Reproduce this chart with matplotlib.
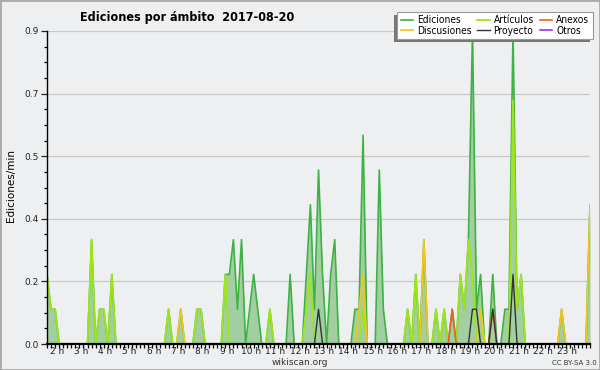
import numpy as np
import matplotlib
matplotlib.use("Agg")
import matplotlib.pyplot as plt
from matplotlib.patches import Rectangle
from matplotlib.ticker import FixedLocator, MultipleLocator
from matplotlib.transforms import IdentityTransform
from matplotlib.font_manager import FontProperties

title = "Ediciones por ámbito  2017-08-20"
ylabel = "Ediciones/min"
start_hour = 1.6
bin_minutes = 10
hour_ticks = list(range(2, 24))
hour_labels = [f"{h} h" for h in hour_ticks]

# Ediciones (total) per 10-minute bin
ediciones = [
    0.2, 0.1, 0.1, 0, 0, 0, 0, 0, 0, 0, 0, 0.3,
    0, 0.1, 0.1, 0, 0.2, 0, 0, 0, 0, 0, 0, 0,
    0, 0, 0, 0, 0, 0, 0.1, 0, 0, 0.1, 0, 0,
    0, 0.1, 0.1, 0, 0, 0, 0, 0, 0.2, 0.2, 0.3, 0.1,
    0.3, 0, 0.1, 0.2, 0.1, 0, 0, 0.1, 0, 0, 0, 0,
    0.2, 0, 0, 0, 0.2, 0.4, 0.1, 0.5, 0.2, 0, 0.2, 0.3,
    0, 0, 0, 0, 0.1, 0.1, 0.6, 0, 0, 0, 0.5, 0.1,
    0, 0, 0, 0, 0, 0.1, 0, 0.2, 0, 0.3, 0, 0,
    0.1, 0, 0.1, 0, 0.1, 0, 0.2, 0.1, 0.3, 0.9, 0.1, 0.2,
    0, 0, 0.2, 0, 0, 0.1, 0.1, 0.9, 0.1, 0.2, 0, 0,
    0, 0, 0, 0, 0, 0, 0, 0.1, 0, 0, 0, 0,
    0, 0, 0.4,
]
articulos = [
    0.2, 0.1, 0.1, 0, 0, 0, 0, 0, 0, 0, 0, 0.3,
    0, 0.1, 0.1, 0, 0.2, 0, 0, 0, 0, 0, 0, 0,
    0, 0, 0, 0, 0, 0, 0.1, 0, 0, 0, 0, 0,
    0, 0.1, 0.1, 0, 0, 0, 0, 0, 0.2, 0, 0, 0,
    0, 0, 0, 0, 0, 0, 0, 0.1, 0, 0, 0, 0,
    0, 0, 0, 0, 0.1, 0.2, 0, 0, 0, 0, 0, 0,
    0, 0, 0, 0, 0, 0, 0.1, 0, 0, 0, 0, 0,
    0, 0, 0, 0, 0, 0.1, 0, 0.2, 0, 0, 0, 0,
    0.1, 0, 0.1, 0, 0, 0, 0.2, 0.1, 0.3, 0.2, 0, 0.1,
    0, 0, 0, 0, 0, 0, 0, 0.7, 0.1, 0.2, 0, 0,
    0, 0, 0, 0, 0, 0, 0, 0, 0, 0, 0, 0,
    0, 0, 0,
]
discusiones_bins = [33, 77, 78, 93, 107, 127, 134]
discusiones_vals = [0.1, 0.1, 0.2, 0.3, 0.1, 0.1, 0.4]
proyecto_bins = [67, 105, 106, 110, 115]
proyecto_vals = [0.1, 0.1, 0.1, 0.1, 0.2]
anexos_bins = [100, 110]
anexos_vals = [0.1, 0.1]
otros_bins = []
otros_vals = []

n_bins = len(ediciones)
hours = start_hour + np.arange(n_bins) * bin_minutes / 60.0


def sparse(bins, vals):
    a = np.zeros(n_bins)
    if bins:
        a[np.array(bins)] = vals
    return a


discusiones = sparse(discusiones_bins, discusiones_vals)
proyecto = sparse(proyecto_bins, proyecto_vals)
anexos = sparse(anexos_bins, anexos_vals)
otros = sparse(otros_bins, otros_vals)

bg = "#eeeff1"
fig = plt.figure(figsize=(6, 3.7), dpi=100, facecolor=bg)
ax = fig.add_axes([47 / 600, 26 / 370, 543 / 600, 313 / 370])
ax.set_facecolor(bg)

ax.fill_between(hours, ediciones, color="#a2cea2", lw=0, zorder=1.5)
l_ed, = ax.plot(hours, ediciones, color="#3db343", lw=1.2, label="Ediciones")
l_ar, = ax.plot(hours, articulos, color="#9ee51a", lw=1.3, label="Artículos")
l_di, = ax.plot(hours, discusiones, color="#f5c518", lw=1.2, label="Discusiones")
l_an, = ax.plot(hours, anexos, color="#f0602a", lw=1.2, label="Anexos")
l_pr, = ax.plot(hours, proyecto, color="#333333", lw=1.0, label="Proyecto")
l_ot, = ax.plot(hours, otros, color="#9933ee", lw=1.2, label="Otros")

ax.set_xlim(hours[0], hours[-1])
ax.set_ylim(0, 0.9)
yt = np.linspace(0, 0.9, 6)
ax.set_yticks(yt)
ax.set_yticklabels(["%.1f" % v for v in yt])
ax.yaxis.set_minor_locator(MultipleLocator(0.045))
ax.grid(axis="y", color="#c8c8c8", lw=0.9)
ax.set_axisbelow(True)

ax.set_xticks(hour_ticks)
ax.set_xticklabels(hour_labels)
ax.xaxis.set_minor_locator(FixedLocator(hours))
ax.tick_params(axis="x", which="major", length=0, pad=2, labelsize=6.5, colors="#222222")
ax.tick_params(axis="x", which="minor", length=3, width=0.9, color="black")
ax.tick_params(axis="y", which="major", length=4, width=0.9, labelsize=6.5, colors="#222222", pad=2)
ax.tick_params(axis="y", which="minor", length=2.5, width=0.9, color="black")
for s in ("top", "right"):
    ax.spines[s].set_visible(False)
ax.spines["left"].set_linewidth(1.0)
ax.spines["bottom"].set_linewidth(1.6)
ax.spines["left"].set_zorder(3)
ax.spines["bottom"].set_zorder(3)

fig.text(0.312, 0.954, title, ha="center", va="center", fontsize=9,
         fontweight="bold", fontstretch="condensed")
fig.text(0.018, 0.50, ylabel, rotation=90, ha="center", va="center", fontsize=7.5)
fig.text(0.5, 0.019, "wikiscan.org", ha="center", va="center", fontsize=6.5, color="#333333")
fig.text(0.957, 0.02, "CC BY-SA 3.0", ha="center", va="center", fontsize=5, color="#333333")

leg = fig.legend(
    [l_ed, l_di, l_ar, l_pr, l_an, l_ot],
    ["Ediciones", "Discusiones", "Artículos", "Proyecto", "Anexos", "Otros"],
    loc="upper right", bbox_to_anchor=(0.988, 0.968), ncol=3,
    prop=FontProperties(size=7.3, stretch="condensed"),
    frameon=True, fancybox=False, edgecolor="#999999", framealpha=1,
    handlelength=1.2, handletextpad=0.4, columnspacing=0.6, labelspacing=0.05,
    borderpad=0.35, borderaxespad=0,
)
leg.get_frame().set_linewidth(0.8)

fig.canvas.draw()
bb = leg.get_window_extent()
shadow = Rectangle((bb.x0 - 3, bb.y0 - 3), bb.width, bb.height,
                   transform=IdentityTransform(), facecolor="#777777",
                   edgecolor="none", zorder=leg.get_zorder() - 0.5)
fig.add_artist(shadow)

fig.add_artist(Rectangle((0, 0), 1, 1, transform=fig.transFigure, fill=False,
                         edgecolor="#aaaaaa", lw=2))

fig.savefig("out.png", dpi=100, facecolor=bg)
